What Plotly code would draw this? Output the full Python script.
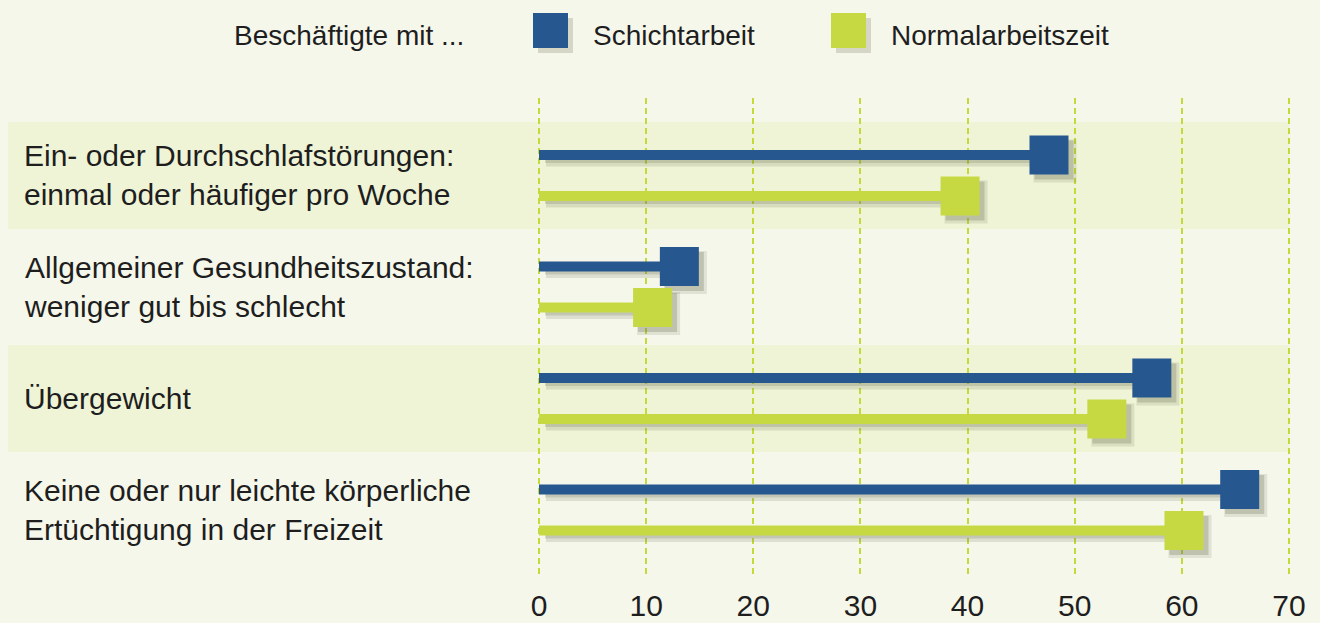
import plotly.graph_objects as go

# ---- data ----
categories = [
    "Ein- oder Durchschlafstörungen:<br>einmal oder häufiger pro Woche",
    "Allgemeiner Gesundheitszustand:<br>weniger gut bis schlecht",
    "Übergewicht",
    "Keine oder nur leichte körperliche<br>Ertüchtigung in der Freizeit",
]
schichtarbeit = [47.6, 13.1, 57.2, 65.4]
normalarbeitszeit = [39.3, 10.6, 53.0, 60.2]
tick_values = [0, 10, 20, 30, 40, 50, 60, 70]
tick_labels = ["0", "10", "20", "30", "40", "50", "60", "70"]
legend_title = "Beschäftigte mit ..."
series_names = ["Schichtarbeit", "Normalarbeitszeit"]

# ---- style ----
W, H = 1320, 623
L, R, T, B = 8, 26, 98, 46
PW, PH = W - L - R, H - T - B
BG = "#f6f7eb"
BAND = "#eff4d7"
BLUE = "#27578f"
GREEN = "#c6d943"
GRID = "#c5d93a"
TEXT = "#1e1e1e"
FONT = "Liberation Sans, Arial, sans-serif"

UNIT = 10.714          # pixels per percentage point
X0 = -531 / UNIT       # left end of the plot area (label column)
XMAX = X0 + PW / UNIT  # right end of the plot area (a bit past 70)
row_px = 111.5
YTOP = -0.695
YBOT = YTOP + PH / row_px
OFF = 0.184  # series offset from row centre (in row units)
BAND_RIGHT = 70


def px_x(px):
    return (px - L) / PW


def px_y(py):
    return (H - B - py) / PH


def dx(px):
    return px / UNIT


def dy(px):
    return px / row_px


fig = go.Figure()

series = [(schichtarbeit, BLUE, -OFF), (normalarbeitszeit, GREEN, OFF)]

# shadows
for vals, col, off in series:
    for i, v in enumerate(vals):
        y = i + off
        fig.add_trace(go.Scatter(
            x=[dx(7), v], y=[y + dy(6), y + dy(6)], mode="lines",
            line=dict(color="rgba(95,100,70,0.16)", width=11),
            hoverinfo="skip", showlegend=False))
        fig.add_trace(go.Scatter(
            x=[dx(6), v], y=[y + dy(4), y + dy(4)], mode="lines",
            line=dict(color="rgba(95,100,70,0.2)", width=8),
            hoverinfo="skip", showlegend=False))
        fig.add_trace(go.Scatter(
            x=[v + dx(6)], y=[y + dy(6)], mode="markers",
            marker=dict(symbol="square", size=43, color="rgba(95,100,70,0.14)", line=dict(width=0)),
            hoverinfo="skip", showlegend=False))
        fig.add_trace(go.Scatter(
            x=[v + dx(5)], y=[y + dy(5)], mode="markers",
            marker=dict(symbol="square", size=39, color="rgba(95,100,70,0.25)", line=dict(width=0)),
            hoverinfo="skip", showlegend=False))

# main marks
for (vals, col, off), name in zip(series, series_names):
    for i, v in enumerate(vals):
        y = i + off
        fig.add_trace(go.Scatter(
            x=[0, v], y=[y, y], mode="lines",
            line=dict(color=col, width=10),
            name=name, showlegend=False, hoverinfo="skip"))
    fig.add_trace(go.Scatter(
        x=vals, y=[i + off for i in range(len(vals))], mode="markers",
        marker=dict(symbol="square", size=39, color=col, line=dict(width=0)),
        name=name, showlegend=False,
        hovertemplate="%{x}<extra>" + name + "</extra>"))

shapes = []
# alternating bands
for i in range(len(categories)):
    if i % 2 == 0:
        shapes.append(dict(type="rect", xref="x", yref="y",
                           x0=X0, x1=BAND_RIGHT, y0=i - 0.48, y1=i + 0.48,
                           fillcolor=BAND, line=dict(width=0), layer="below"))

annotations = []
for i, c in enumerate(categories):
    annotations.append(dict(x=px_x(22), xref="paper", y=i, yref="y",
                            text=c, showarrow=False, xanchor="left", yanchor="middle",
                            align="left", font=dict(family=FONT, size=30, color=TEXT)))

# legend (manual)
legend_items = [(533, BLUE, 591, series_names[0]), (831, GREEN, 889, series_names[1])]
for sx, col, tx, name in legend_items:
    shapes.append(dict(type="rect", xref="paper", yref="paper",
                       x0=px_x(sx + 5), x1=px_x(sx + 40), y0=px_y(18), y1=px_y(53),
                       fillcolor="rgba(95,100,70,0.22)", line=dict(width=0), layer="above"))
    shapes.append(dict(type="rect", xref="paper", yref="paper",
                       x0=px_x(sx), x1=px_x(sx + 35), y0=px_y(13), y1=px_y(48),
                       fillcolor=col, line=dict(width=0), layer="above"))
    annotations.append(dict(x=px_x(tx), xref="paper", y=px_y(36), yref="paper",
                            text=name, showarrow=False, xanchor="left", yanchor="middle",
                            font=dict(family=FONT, size=28, color=TEXT)))
annotations.append(dict(x=px_x(232), xref="paper", y=px_y(36), yref="paper",
                        text=legend_title, showarrow=False, xanchor="left", yanchor="middle",
                        font=dict(family=FONT, size=28, color=TEXT)))

fig.update_layout(
    width=W, height=H,
    margin=dict(l=L, r=R, t=T, b=B, pad=0, autoexpand=False),
    paper_bgcolor=BG, plot_bgcolor=BG,
    showlegend=False,
    shapes=shapes, annotations=annotations,
    xaxis=dict(range=[X0, XMAX], tickvals=tick_values, ticktext=tick_labels,
               showgrid=True, gridcolor=GRID, gridwidth=2, griddash="6px,4px",
               zeroline=False, showline=False, ticks="", ticklabelstandoff=8,
               automargin=False,
               tickfont=dict(family=FONT, size=30, color=TEXT), fixedrange=True),
    yaxis=dict(range=[YBOT, YTOP], showgrid=False, zeroline=False, showline=False,
               showticklabels=False, ticks="", fixedrange=True, automargin=False),
)

fig.write_html(
    "out.html",
    config={"displayModeBar": False},
    post_script="document.body.style.margin='0';document.body.style.overflow='hidden';",
)
